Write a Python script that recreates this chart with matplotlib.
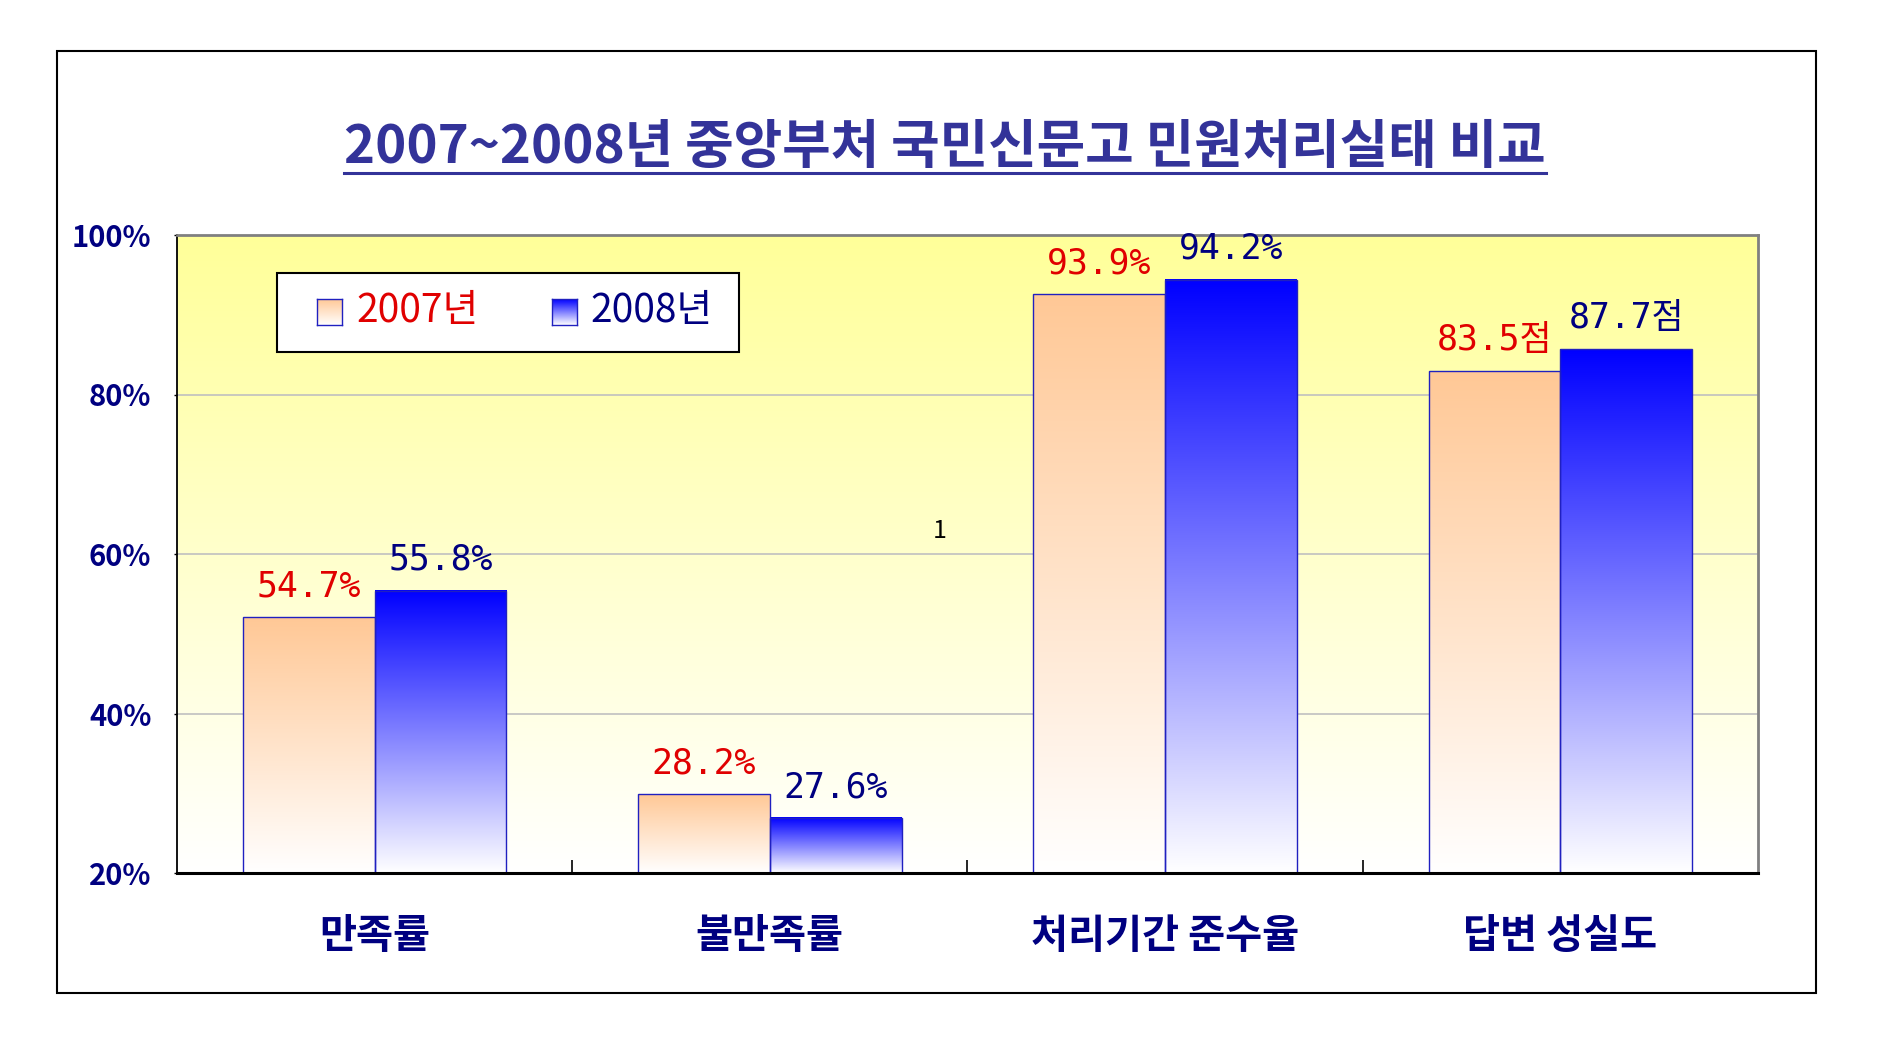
import matplotlib
matplotlib.use("Agg")
import matplotlib.pyplot as plt
import numpy as np
from matplotlib.colors import to_rgb
from matplotlib.lines import Line2D
from matplotlib.patches import Rectangle

# data
categories = ["만족률", "불만족률", "처리기간 준수율", "답변 성실도"]
series_names = ["2007년", "2008년"]
values_2007 = [52.1, 29.9, 92.6, 82.9]
values_2008 = [55.4, 26.9, 94.4, 85.7]
labels_2007 = ["54.7%", "28.2%", "93.9%", "83.5점"]
labels_2008 = ["55.8%", "27.6%", "94.2%", "87.7점"]
y_ticks = [20, 40, 60, 80, 100]
y_tick_labels = ["20%", "40%", "60%", "80%", "100%"]
title = "2007~2008년 중앙부처 국민신문고 민원처리실태 비교"

NAVY = "#000080"
RED = "#E00000"
TITLE_BLUE = "#333399"
PEACH = "#FFC896"
BLUE = "#0000FF"
BG_TOP = "#FFFF99"

KR = ["Noto Sans CJK KR", "DejaVu Sans"]
NARROW = ["Liberation Sans Narrow", "Noto Sans CJK KR", "DejaVu Sans"]
MONO = ["DejaVu Sans Mono", "Noto Sans CJK KR"]

W, H = 1890, 1058


def fx(px):
    return px / W


def fy(py):
    return 1 - py / H


def gradient(top_color, bottom_color="white", n=256):
    top = np.array(to_rgb(top_color))
    bot = np.array(to_rgb(bottom_color))
    t = np.linspace(0, 1, n)[:, None]
    return (bot + (top - bot) * t).reshape(n, 1, 3)


def fill_gradient(ax, x0, x1, y0, y1, top_color, zorder):
    ax.imshow(gradient(top_color), extent=[x0, x1, y0, y1], origin="lower",
              aspect="auto", interpolation="bilinear", zorder=zorder)


fig = plt.figure(figsize=(W / 100, H / 100), dpi=100)
fig.patch.set_facecolor("white")

# outer frame
fig.add_artist(Rectangle((fx(57), fy(993)), fx(1816 - 57), (993 - 51) / H,
                         transform=fig.transFigure, facecolor="none",
                         edgecolor="black", linewidth=1.5, zorder=0))

ax = fig.add_axes([fx(177), fy(873), fx(1758 - 177), (873 - 235) / H])
x = np.arange(len(categories))
width = 1 / 3
ymin, ymax = 20, 100

# plot-area background
fill_gradient(ax, -0.5, 3.5, ymin, ymax, BG_TOP, zorder=0)

series = [
    (values_2007, labels_2007, PEACH, RED, -width / 2),
    (values_2008, labels_2008, BLUE, NAVY, width / 2),
]
for vals, labels, color, text_color, offset in series:
    bars = ax.bar(x + offset, vals, width=width, facecolor="none",
                  edgecolor="#2020C0", linewidth=1.0, zorder=2)
    for bar, label in zip(bars, labels):
        x0 = bar.get_x()
        h = bar.get_height()
        fill_gradient(ax, x0, x0 + bar.get_width(), ymin, h, color, zorder=1.5)
        ax.annotate(label, xy=(x0 + bar.get_width() / 2, h), xytext=(0, 10),
                    textcoords="offset points", ha="center", va="bottom",
                    fontsize=25, color=text_color, family=MONO, zorder=3)

ax.set_xlim(-0.5, 3.5)
ax.set_ylim(ymin, ymax)

ax.set_yticks(y_ticks)
ax.set_yticklabels(y_tick_labels, family=NARROW, fontsize=21,
                   fontweight="bold", color=NAVY)
ax.tick_params(axis="y", direction="out", length=2.5, width=1, pad=16)

ax.set_xticks(x)
ax.set_xticklabels(categories, family=KR, fontsize=29, fontweight="bold",
                   color=NAVY)
ax.tick_params(axis="x", which="major", length=0, pad=31)
ax.set_xticks([0.5, 1.5, 2.5], minor=True)
ax.tick_params(axis="x", which="minor", direction="in", length=9.5,
               width=1.2, color="black")

ax.yaxis.grid(True, color="#C0C0C0", linewidth=1.2)
ax.set_axisbelow(True)
for grid_line in ax.get_ygridlines():
    grid_line.set_zorder(0.8)

ax.spines["left"].set_color("black")
ax.spines["left"].set_linewidth(1.3)
ax.spines["bottom"].set_color("black")
ax.spines["bottom"].set_linewidth(2.2)
for side in ("top", "right"):
    ax.spines[side].set_color("#808080")
    ax.spines[side].set_linewidth(2)

# stray label in the original slide
ax.text(1.43, 62.9, "1", fontsize=18, color="black", family=NARROW,
        ha="center", va="center", zorder=3)

# legend box
fig.add_artist(Rectangle((fx(277), fy(352)), fx(739 - 277), (352 - 273) / H,
                         transform=fig.transFigure, facecolor="white",
                         edgecolor="black", linewidth=1.5, zorder=4))
legend_items = [(series_names[0], PEACH, RED, 317, 356),
                (series_names[1], BLUE, NAVY, 552, 590)]
for name, color, text_color, mx, tx in legend_items:
    max_ = fig.add_axes([fx(mx), fy(325), fx(25), 26 / H], zorder=5)
    max_.imshow(gradient(color), origin="lower", aspect="auto",
                interpolation="bilinear", extent=[0, 1, 0, 1])
    max_.set_xticks([])
    max_.set_yticks([])
    for sp in max_.spines.values():
        sp.set_color("#2020C0")
        sp.set_linewidth(1.0)
    fig.text(fx(tx), fy(311), name, family=NARROW, fontsize=28,
             color=text_color, ha="left", va="center", zorder=6)

# title with underline
title_text = fig.text(0.5, fy(148), title, family=KR, fontsize=38,
                      fontweight="bold", color=TITLE_BLUE, ha="center",
                      va="center")
fig.canvas.draw()
bb = title_text.get_window_extent()
fig.add_artist(Line2D([bb.x0 / W, bb.x1 / W], [fy(173), fy(173)],
                      transform=fig.transFigure, color=TITLE_BLUE,
                      linewidth=2.2))

fig.savefig("out.png", dpi=100, facecolor="white")
